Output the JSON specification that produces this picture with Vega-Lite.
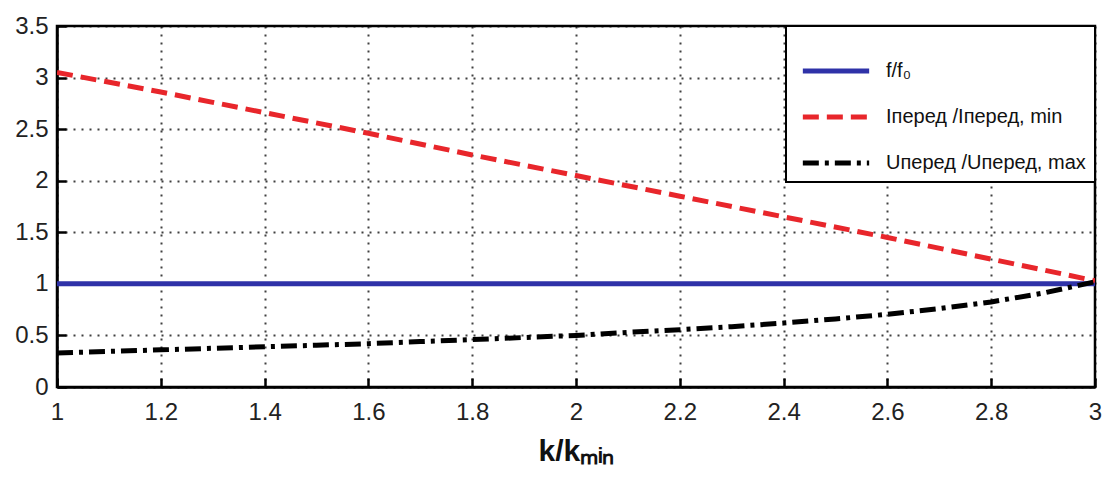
{
  "$schema": "https://vega.github.io/schema/vega-lite/v6.json",
  "autosize": "none",
  "width": 1038,
  "height": 361,
  "padding": {"left": 57, "top": 26, "right": 10, "bottom": 90},
  "background": "white",
  "config": {
    "font": "Liberation Sans",
    "view": {"stroke": "black", "strokeWidth": 2.5},
    "axis": {
      "domainColor": "black",
      "domainWidth": 2.5,
      "grid": true,
      "gridColor": "black",
      "gridDash": [2, 6],
      "gridWidth": 2,
      "gridOpacity": 0.75,
      "tickColor": "black",
      "tickWidth": 2.5,
      "tickSize": -9,
      "labelFontSize": 24,
      "labelColor": "#222",
      "labelFont": "Liberation Sans",
      "format": "~g"
    },
    "legend": {
      "orient": "top-right",
      "offset": 0,
      "fillColor": "white",
      "strokeColor": "black",
      "strokeWidth": 2,
      "padding": 9,
      "symbolOffset": 5,
      "symbolType": "stroke",
      "symbolSize": 4400,
      "symbolStrokeWidth": 5,
      "labelFontSize": 20,
      "labelColor": "#111",
      "labelOffset": 14,
      "rowPadding": -14,
      "labelLimit": 400
    }
  },
  "data": {
    "values": [
      {"k": 1.0, "v": 1, "s": "f"},
      {"k": 3.0, "v": 1, "s": "f"},
      {"k": 1.0, "v": 3.05, "s": "I"},
      {"k": 1.2, "v": 2.86, "s": "I"},
      {"k": 1.4, "v": 2.66, "s": "I"},
      {"k": 1.6, "v": 2.46, "s": "I"},
      {"k": 1.8, "v": 2.25, "s": "I"},
      {"k": 2.0, "v": 2.05, "s": "I"},
      {"k": 2.2, "v": 1.85, "s": "I"},
      {"k": 2.4, "v": 1.65, "s": "I"},
      {"k": 2.6, "v": 1.45, "s": "I"},
      {"k": 2.8, "v": 1.24, "s": "I"},
      {"k": 3.0, "v": 1.03, "s": "I"},
      {"k": 1.0, "v": 0.33, "s": "U"},
      {"k": 1.1, "v": 0.345, "s": "U"},
      {"k": 1.2, "v": 0.36, "s": "U"},
      {"k": 1.3, "v": 0.375, "s": "U"},
      {"k": 1.4, "v": 0.39, "s": "U"},
      {"k": 1.5, "v": 0.405, "s": "U"},
      {"k": 1.6, "v": 0.42, "s": "U"},
      {"k": 1.7, "v": 0.44, "s": "U"},
      {"k": 1.8, "v": 0.46, "s": "U"},
      {"k": 1.9, "v": 0.48, "s": "U"},
      {"k": 2.0, "v": 0.50, "s": "U"},
      {"k": 2.1, "v": 0.53, "s": "U"},
      {"k": 2.2, "v": 0.555, "s": "U"},
      {"k": 2.3, "v": 0.585, "s": "U"},
      {"k": 2.4, "v": 0.62, "s": "U"},
      {"k": 2.5, "v": 0.66, "s": "U"},
      {"k": 2.6, "v": 0.705, "s": "U"},
      {"k": 2.7, "v": 0.76, "s": "U"},
      {"k": 2.8, "v": 0.825, "s": "U"},
      {"k": 2.9, "v": 0.91, "s": "U"},
      {"k": 3.0, "v": 1.02, "s": "U"}
    ]
  },
  "mark": {"type": "line", "strokeWidth": 5, "clip": true},
  "encoding": {
    "x": {
      "field": "k",
      "type": "quantitative",
      "scale": {"domain": [1, 3], "nice": false, "zero": false},
      "axis": {
        "values": [1, 1.2, 1.4, 1.6, 1.8, 2, 2.2, 2.4, 2.6, 2.8, 3],
        "labelPadding": 22,
        "title": "k/kₘᵢₙ",
        "titleFontSize": 30,
        "titleFontWeight": "bold",
        "titleColor": "#111",
        "titlePadding": 12,
        "labelFlush": false
      }
    },
    "y": {
      "field": "v",
      "type": "quantitative",
      "scale": {"domain": [0, 3.5], "nice": false},
      "axis": {
        "values": [0, 0.5, 1, 1.5, 2, 2.5, 3, 3.5],
        "labelPadding": 18,
        "title": null
      }
    },
    "color": {
      "field": "s",
      "type": "nominal",
      "scale": {"domain": ["f", "I", "U"], "range": ["#2f32a8", "#e8262b", "#000000"]},
      "legend": {
        "title": null,
        "labelExpr": "datum.value == 'f' ? 'f/f₀' : datum.value == 'I' ? 'Iперед /Iперед, min' : 'Uперед /Uперед, max'"
      }
    },
    "strokeDash": {
      "field": "s",
      "type": "nominal",
      "scale": {"domain": ["f", "I", "U"], "range": [[1, 0], [16, 8], [16, 6, 4, 6]]},
      "legend": {
        "title": null,
        "labelExpr": "datum.value == 'f' ? 'f/f₀' : datum.value == 'I' ? 'Iперед /Iперед, min' : 'Uперед /Uперед, max'"
      }
    },
    "order": {"field": "k", "type": "quantitative"}
  }
}
